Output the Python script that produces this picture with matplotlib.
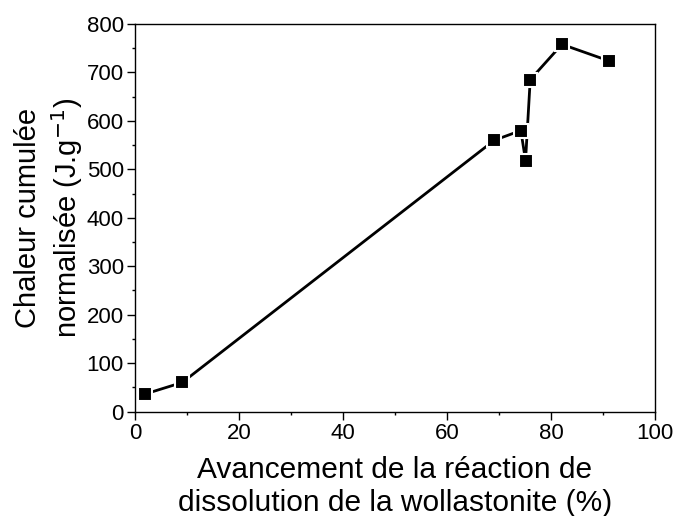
import matplotlib
matplotlib.use("Agg")
import matplotlib.pyplot as plt
from matplotlib.ticker import MultipleLocator

plt.rcParams['font.family'] = ['Liberation Sans', 'DejaVu Sans']

x = [1.9, 9.1, 69.1, 74.2, 75.1, 76.0, 82.1, 91.1]
y = [36, 60, 560, 580, 518, 685, 758, 724]

fig = plt.figure(figsize=(6.75, 5.16), dpi=100)
ax = fig.add_axes([0.2, 0.2025, 0.7704, 0.751])
ax.plot(x, y, color='black', lw=2, marker='s', ms=10, mfc='black',
        mec='white', mew=1.5, zorder=3)
ax.set_xlim(0, 100)
ax.set_ylim(0, 800)
ax.xaxis.set_major_locator(MultipleLocator(20))
ax.xaxis.set_minor_locator(MultipleLocator(10))
ax.yaxis.set_major_locator(MultipleLocator(100))
ax.yaxis.set_minor_locator(MultipleLocator(50))
ax.tick_params(which='both', direction='out', top=False, right=False, labelsize=16)
ax.tick_params(which='major', length=5.5, width=1, pad=2.5)
ax.tick_params(which='minor', length=2.5, width=1)
for s in ax.spines.values():
    s.set_linewidth(1)
ax.set_xlabel("Avancement de la réaction de\ndissolution de la wollastonite (%)", fontsize=21.5,
              labelpad=9, linespacing=1.2)
ax.set_ylabel("Chaleur cumulée\nnormalisée (J.g$^{-1}$)", fontsize=21, labelpad=1.5, linespacing=1.25)
fig.savefig("out.png", dpi=100)
